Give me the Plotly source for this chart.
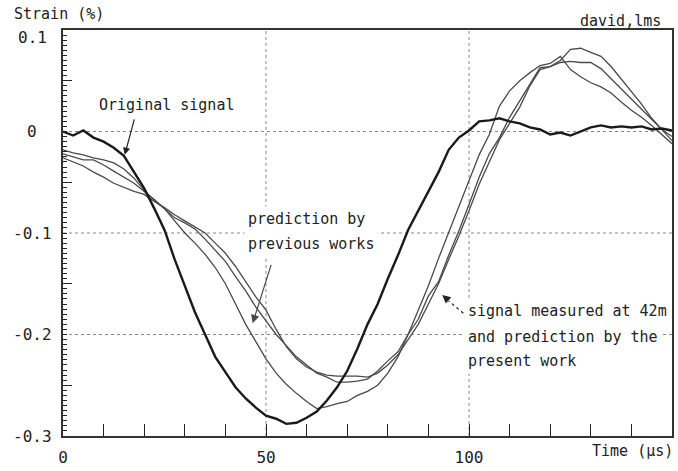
import plotly.graph_objects as go

# ---------------- data ----------------
time_us = [0, 2.5, 5, 7.5, 10, 12.5, 15, 17.5, 20, 22.5, 25, 27.5, 30, 32.5, 35, 37.5,
           40, 42.5, 45, 47.5, 50, 52.5, 55, 57.5, 60, 62.5, 65, 67.5, 70, 72.5, 75, 77.5,
           80, 82.5, 85, 87.5, 90, 92.5, 95, 97.5, 100, 102.5, 105, 107.5, 110, 112.5, 115,
           117.5, 120, 122.5, 125, 127.5, 130, 132.5, 135, 137.5, 140, 142.5, 145, 147.5, 150]

original_signal = [0.000, -0.004, 0.001, -0.006, -0.010, -0.016, -0.024, -0.040, -0.056, -0.076,
                   -0.097, -0.126, -0.152, -0.178, -0.200, -0.222, -0.237, -0.252, -0.263, -0.272,
                   -0.280, -0.283, -0.288, -0.287, -0.282, -0.276, -0.265, -0.252, -0.236, -0.214,
                   -0.190, -0.170, -0.145, -0.122, -0.097, -0.078, -0.058, -0.040, -0.018, -0.006,
                   0.001, 0.010, 0.011, 0.013, 0.010, 0.008, 0.004, 0.002, -0.003, -0.001,
                   -0.004, 0.000, 0.004, 0.006, 0.004, 0.005, 0.004, 0.005, 0.002, 0.003, 0.001]

prediction_previous = [-0.022, -0.025, -0.028, -0.028, -0.033, -0.039, -0.045, -0.051, -0.059, -0.067,
                       -0.076, -0.088, -0.100, -0.110, -0.121, -0.134, -0.150, -0.170, -0.190, -0.207,
                       -0.224, -0.238, -0.249, -0.258, -0.266, -0.273, -0.271, -0.268, -0.266, -0.260,
                       -0.256, -0.250, -0.238, -0.222, -0.200, -0.176, -0.152, -0.125, -0.099, -0.074,
                       -0.048, -0.023, -0.003, 0.025, 0.040, 0.050, 0.058, 0.065, 0.067, 0.074,
                       0.061, 0.054, 0.048, 0.044, 0.038, 0.029, 0.021, 0.014, 0.006, -0.003, -0.012]

measured_42m = [-0.018, -0.021, -0.023, -0.026, -0.028, -0.031, -0.037, -0.046, -0.058, -0.068,
                -0.076, -0.085, -0.090, -0.096, -0.106, -0.117, -0.128, -0.143, -0.157, -0.173,
                -0.186, -0.200, -0.211, -0.222, -0.230, -0.238, -0.242, -0.247, -0.247, -0.246,
                -0.244, -0.236, -0.226, -0.217, -0.200, -0.185, -0.162, -0.148, -0.122, -0.098,
                -0.072, -0.045, -0.022, -0.006, 0.014, 0.030, 0.047, 0.063, 0.064, 0.070,
                0.081, 0.082, 0.078, 0.074, 0.064, 0.052, 0.039, 0.027, 0.013, 0.002, -0.009]

prediction_present = [-0.026, -0.030, -0.034, -0.040, -0.045, -0.051, -0.055, -0.059, -0.062, -0.069,
                      -0.075, -0.082, -0.088, -0.094, -0.100, -0.110, -0.120, -0.133, -0.148, -0.163,
                      -0.176, -0.195, -0.212, -0.224, -0.232, -0.237, -0.240, -0.241, -0.241, -0.241,
                      -0.242, -0.238, -0.230, -0.220, -0.205, -0.190, -0.170, -0.150, -0.126, -0.103,
                      -0.078, -0.052, -0.030, -0.008, 0.008, 0.024, 0.045, 0.061, 0.064, 0.068,
                      0.069, 0.068, 0.068, 0.062, 0.052, 0.042, 0.032, 0.022, 0.011, 0.002, -0.005]

x_tick_vals = [0, 10, 20, 30, 40, 50, 60, 70, 80, 90, 100, 110, 120, 130, 140]
x_tick_text = ["0", "", "", "", "", "50", "", "", "", "", "100", "", "", "", ""]
y_label_vals = [0.1, 0.0, -0.1, -0.2, -0.3]
y_label_text = ["0.1", "0", "-0.1", "-0.2", "-0.3"]
y_long_ticks = [0.05, -0.05, -0.15, -0.25]
x_grid = [50, 100]
y_grid = [0.0, -0.1, -0.2]

FONT = "DejaVu Sans Mono"
INK = "#222222"
THIN = "#4a4a4a"

fig = go.Figure()
for series in (prediction_previous, measured_42m, prediction_present):
    fig.add_trace(go.Scatter(x=time_us, y=series, mode="lines",
                             line=dict(color=THIN, width=1.3), showlegend=False))
fig.add_trace(go.Scatter(x=time_us, y=original_signal, mode="lines",
                         line=dict(color="#1a1a1a", width=2.4), showlegend=False))

# dotted grid
for gx in x_grid:
    fig.add_shape(type="line", xref="x", yref="paper", x0=gx, x1=gx, y0=0, y1=1,
                  line=dict(color="#888888", width=1, dash="dot"), layer="below")
for gy in y_grid:
    fig.add_shape(type="line", xref="paper", yref="y", x0=0, x1=1, y0=gy, y1=gy,
                  line=dict(color="#888888", width=1, dash="dot"), layer="below")

# y tick labels
for v, t in zip(y_label_vals, y_label_text):
    fig.add_annotation(xref="paper", yref="y", x=0, y=v, text=t, showarrow=False,
                       xanchor="center", yanchor="middle", xshift=-31,
                       yshift=-7 if v == max(y_label_vals) else 0,
                       font=dict(family=FONT, size=16, color=INK))

txt = dict(family=FONT, size=15, color=INK)

def label(x, y, text):
    fig.add_annotation(x=x, y=y, text=text, showarrow=False, xanchor="left", yanchor="middle",
                       bgcolor="white", borderpad=3, font=txt)

label(7.9, 0.026, "Original signal")
label(44.7, -0.0862, "prediction by")
label(44.7, -0.1105, "previous works")
label(98.8, -0.1773, "signal measured at 42m")
label(98.8, -0.2025, "and prediction by the")
label(98.8, -0.2258, "present work")

# arrows
fig.add_annotation(x=15.2, y=-0.023, ax=10, ay=-37, text="", showarrow=True,
                   arrowhead=2, arrowsize=1.2, arrowwidth=1.2, arrowcolor=INK)
fig.add_annotation(x=46.7, y=-0.189, ax=19, ay=-60, text="", showarrow=True,
                   arrowhead=2, arrowsize=1.4, arrowwidth=1.2, arrowcolor=THIN)
fig.add_shape(type="line", x0=98.6, y0=-0.179, x1=95.0, y1=-0.167,
              line=dict(color=INK, width=1.2, dash="dot"))
fig.add_annotation(x=93.4, y=-0.161, ax=7, ay=6, text="", showarrow=True,
                   arrowhead=2, arrowsize=1.4, arrowwidth=1.2, arrowcolor=INK)

# titles
fig.add_annotation(xref="paper", yref="paper", x=0, y=1, xshift=-51, yshift=16,
                   xanchor="left", yanchor="middle", text="Strain (%)", showarrow=False, font=txt)
fig.add_annotation(xref="paper", yref="paper", x=1, y=1, xshift=-9, yshift=9,
                   xanchor="right", yanchor="middle", text="david,lms", showarrow=False, font=txt)
fig.add_annotation(xref="paper", yref="paper", x=1, y=0, xshift=3, yshift=-15,
                   xanchor="right", yanchor="middle", text="Time (μs)", showarrow=False, font=txt)

fig.update_xaxes(range=[0, 150], tickmode="array", tickvals=x_tick_vals, ticktext=x_tick_text,
                 ticks="inside", ticklen=12, tickwidth=1.2, tickcolor=INK,
                 showgrid=False, zeroline=False, showline=True, linewidth=2, linecolor="#333333",
                 mirror=True, ticklabelstandoff=6,
                 tickfont=dict(family=FONT, size=16, color=INK))
fig.update_yaxes(range=[-0.3, 0.1], tickmode="array", tickvals=y_long_ticks,
                 showticklabels=False, ticks="inside", ticklen=9, tickwidth=1.2, tickcolor=INK,
                 minor=dict(tickmode="linear", tick0=0, dtick=0.005, ticks="inside", ticklen=4,
                            tickwidth=1, tickcolor=INK, showgrid=False),
                 showgrid=False, zeroline=False, showline=True, linewidth=2, linecolor="#333333",
                 mirror=True)

fig.update_layout(width=678, height=471, margin=dict(l=63, r=4, t=30, b=28),
                  plot_bgcolor="white", paper_bgcolor="white", showlegend=False)

fig.write_html("out.html", config={"displayModeBar": False},
               post_script="document.body.style.margin='0';document.body.style.overflow='hidden';")
